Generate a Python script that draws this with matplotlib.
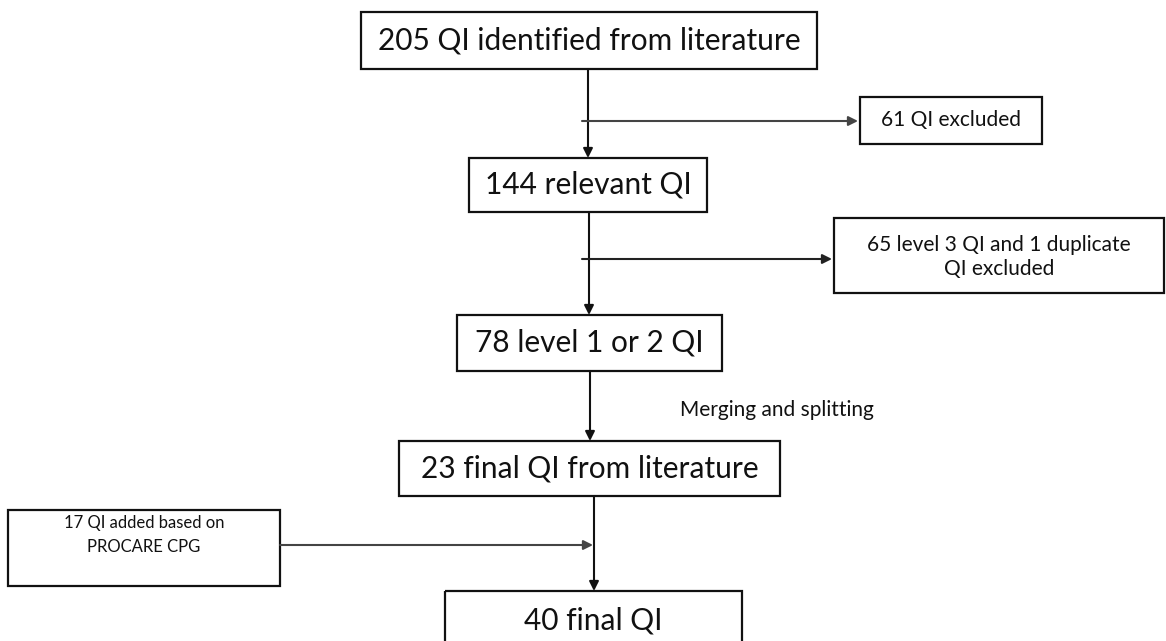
import matplotlib
matplotlib.use("Agg")
import matplotlib.pyplot as plt
from matplotlib.patches import Rectangle

# flow steps (main column) and side boxes
main_labels = ["205 QI identified from literature", "144 relevant QI",
               "78 level 1 or 2 QI", "23 final QI from literature", "40 final QI"]
side_labels = ["61 QI excluded", "65 level 3 QI and 1 duplicate\nQI excluded",
               "17 QI added based on\nPROCARE CPG"]
step_note = "Merging and splitting"

# box geometry in pixels (x0, y0, x1, y1), y measured from top
main_boxes = [(361, 12, 817, 69), (469, 158, 707, 212), (457, 315, 722, 371),
              (399, 441, 780, 496), (445, 591, 742, 650)]
side_boxes = [(860, 97, 1042, 144), (834, 218, 1164, 293), (8, 510, 280, 586)]
side_sizes = [15, 15, 12]
side_text_y = [120, 257, 535]
side_spacing = [1.3, 1.3, 1.6]

plt.rcParams['font.family'] = ['Lato', 'DejaVu Sans']

fig = plt.figure(figsize=(11.66, 6.41), dpi=100)
ax = fig.add_axes([0, 0, 1, 1])
ax.set_xlim(0, 1166)
ax.set_ylim(641, 0)
ax.axis('off')


def box(b, label, size, ty=None, ls=1.3):
    x0, y0, x1, y1 = b
    ax.add_patch(Rectangle((x0, y0), x1 - x0, y1 - y0, fill=False,
                           edgecolor='#111111', lw=1.6))
    if ty is None:
        ty = (y0 + y1) / 2
    ax.text((x0 + x1) / 2, ty, label, ha='center', va='center',
            fontsize=size, color='#111111', linespacing=ls)


def arrow(x0, y0, x1, y1, color='#111111'):
    ax.annotate('', xy=(x1, y1), xytext=(x0, y0),
                arrowprops=dict(arrowstyle='-|>', color=color, lw=1.5,
                                mutation_scale=14, shrinkA=0, shrinkB=0))


for i, (b, lab) in enumerate(zip(main_boxes, main_labels)):
    ty = 620 if i == 4 else None
    box(b, lab, 21.5, ty)
for b, lab, s, ty, ls in zip(side_boxes, side_labels, side_sizes,
                             side_text_y, side_spacing):
    box(b, lab, s, ty, ls)

# vertical arrows
arrow(588, 69, 588, 158)
arrow(589, 212, 589, 315)
arrow(590, 371, 590, 441)
arrow(594, 496, 594, 591)

# side branches
arrow(582, 121, 858, 121, '#444444')
arrow(582, 259, 832, 259, '#222222')
arrow(280, 545, 593, 545, '#444444')

ax.text(680, 410, step_note, ha='left', va='center', fontsize=15,
        color='#111111')

fig.savefig("out.png", dpi=100)
